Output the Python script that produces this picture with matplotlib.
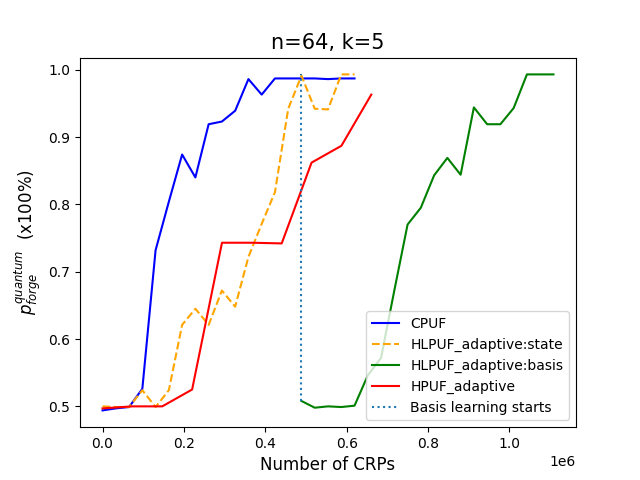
import numpy as np
import matplotlib.pyplot as plt

# paso de CRPs entre puntos
step_fast = 32600
step_hpuf = 73400
basis_start = 15 * step_fast

cpuf = [0.494, 0.497, 0.499, 0.526, 0.732, 0.804, 0.874, 0.840, 0.919, 0.923,
        0.939, 0.986, 0.963, 0.987, 0.987, 0.987, 0.987, 0.986, 0.987, 0.987]
hlpuf_state = [0.500, 0.499, 0.499, 0.524, 0.499, 0.524, 0.621, 0.645, 0.621, 0.672,
               0.648, 0.722, 0.771, 0.818, 0.942, 0.991, 0.942, 0.941, 0.993, 0.993]
hlpuf_basis = [0.508, 0.498, 0.500, 0.499, 0.501, 0.546, 0.572, 0.672, 0.770, 0.795,
               0.843, 0.869, 0.844, 0.944, 0.919, 0.919, 0.943, 0.993, 0.993, 0.993]
hpuf = [0.497, 0.500, 0.500, 0.525, 0.743, 0.743, 0.742, 0.862, 0.887, 0.963]

x_cpuf = np.arange(len(cpuf)) * step_fast
x_state = np.arange(len(hlpuf_state)) * step_fast
x_basis = basis_start + np.arange(len(hlpuf_basis)) * step_fast
x_hpuf = np.arange(len(hpuf)) * step_hpuf

fig, ax = plt.subplots(figsize=(6.4, 4.8), dpi=100)
ax.plot(x_cpuf, cpuf, color='blue', label='CPUF')
ax.plot(x_state, hlpuf_state, color='orange', linestyle='--', label='HLPUF_adaptive:state')
ax.plot(x_basis, hlpuf_basis, color='green', label='HLPUF_adaptive:basis')
ax.plot(x_hpuf, hpuf, color='red', label='HPUF_adaptive')
ax.vlines(basis_start, hlpuf_basis[0], max(hlpuf_state), colors='tab:blue',
          linestyles=':', label='Basis learning starts')

ax.set_title('n=64, k=5', fontsize=15)
ax.set_xlabel('Number of CRPs', fontsize=12)
ax.set_ylabel(r'$p_{forge}^{quantum}$  (x100%)', fontsize=12)
ax.legend(loc='lower right')
plt.savefig('out.png')
